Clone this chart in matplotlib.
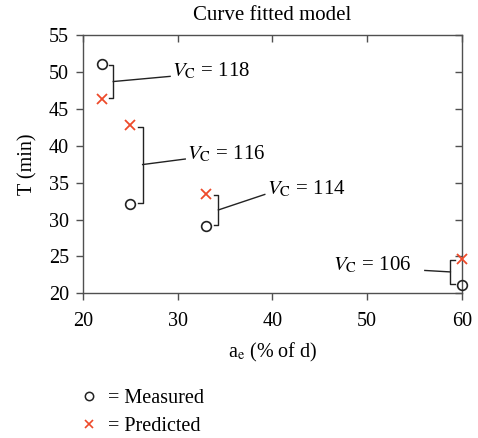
import matplotlib
matplotlib.use('Agg')
from matplotlib import pyplot as plt
from matplotlib.lines import Line2D

plt.rcParams['font.family'] = 'Liberation Serif'
plt.rcParams['mathtext.fontset'] = 'stix'
plt.rcParams['font.size'] = 14

# Data
ae = [22, 25, 33, 60]
measured = [51.1, 32.1, 29.1, 21.1]
predicted = [46.3, 42.8, 33.5, 24.7]
vc_labels = ['118', '116', '114', '106']

# Bracket layout per pair: bracket x, tick dir, leader end (x, y), label alignment
bracket_x = [23.2, 26.3, 34.3, 58.8]
tick_dir = [-1, -1, -1, 1]
leader_end = [(29.2, 49.4), (30.8, 38.2), (39.2, 33.4), (56.1, 23.1)]
label_ha = ['left', 'left', 'left', 'right']

gray = '#505050'
red = '#ee4a2a'

fig = plt.figure(figsize=(4.78, 4.38), dpi=100)
ax = fig.add_axes([0.1736, 0.3303, 0.7924, 0.5897])

ax.plot(ae, measured, 'o', mfc='none', mec='#222222', mew=1.2, ms=7, clip_on=False, zorder=5)
ax.plot(ae, predicted, 'x', color=red, mew=1.3, ms=6.5, clip_on=False, zorder=5)

for i in range(len(ae)):
    bx = bracket_x[i]
    top = max(measured[i], predicted[i]) - 0.2
    bot = min(measured[i], predicted[i]) + 0.2
    t = 0.45 * tick_dir[i]
    ax.plot([bx + t, bx, bx, bx + t], [top, top, bot, bot], color='#222222', lw=1.0, clip_on=False)
    mid = (top + bot) / 2
    ex, ey = leader_end[i]
    ax.plot([bx, ex], [mid, ey], color='#222222', lw=1.0, clip_on=False)
    lx = ex + 0.2 if label_ha[i] == 'left' else ex - 1.4
    ax.text(lx, ey + 0.7, r'$V_{\mathrm{C}}$ = ' + vc_labels[i], ha=label_ha[i], va='center', fontsize=15)

ax.set_xlim(20, 60)
ax.set_ylim(20, 55)
ax.set_xticks([20, 30, 40, 50, 60])
ax.set_yticks([20, 25, 30, 35, 40, 45, 50, 55])
for s in ax.spines.values():
    s.set_color(gray)
    s.set_linewidth(1.0)
ax.tick_params(direction='out', length=5, width=1.0, color=gray, labelsize=14.5)
ax.tick_params(axis='x', pad=8.5)
ax.tick_params(axis='y', pad=5)
ax2 = ax.secondary_xaxis('top')
ax2.set_xticks([20, 30, 40, 50, 60])
ax2.tick_params(direction='in', length=5, width=1.0, color=gray, labeltop=False)
ax3 = ax.secondary_yaxis('right')
ax3.set_yticks([20, 25, 30, 35, 40, 45, 50, 55])
ax3.tick_params(direction='in', length=5, width=1.0, color=gray, labelright=False)
for a in (ax2, ax3):
    for s in a.spines.values():
        s.set_visible(False)

ax.set_title('Curve fitted model', fontsize=15, pad=10.5)
ax.set_xlabel(r'a$_{\mathrm{e}}$ (% of d)', fontsize=14.5, labelpad=7)
ax.set_ylabel('T (min)', fontsize=14.5, labelpad=8)

handles = [Line2D([], [], ls='none', marker='o', mfc='none', mec='#222222', ms=6, mew=1.1),
           Line2D([], [], ls='none', marker='x', color=red, ms=6, mew=1.2)]
fig.legend(handles, ['= Measured', '= Predicted'], loc='upper left',
           bbox_to_anchor=(0.122, 0.153), frameon=False, fontsize=14.5,
           handletextpad=0.35, labelspacing=0.45, handlelength=1.2)

fig.savefig('out.png', dpi=100)
